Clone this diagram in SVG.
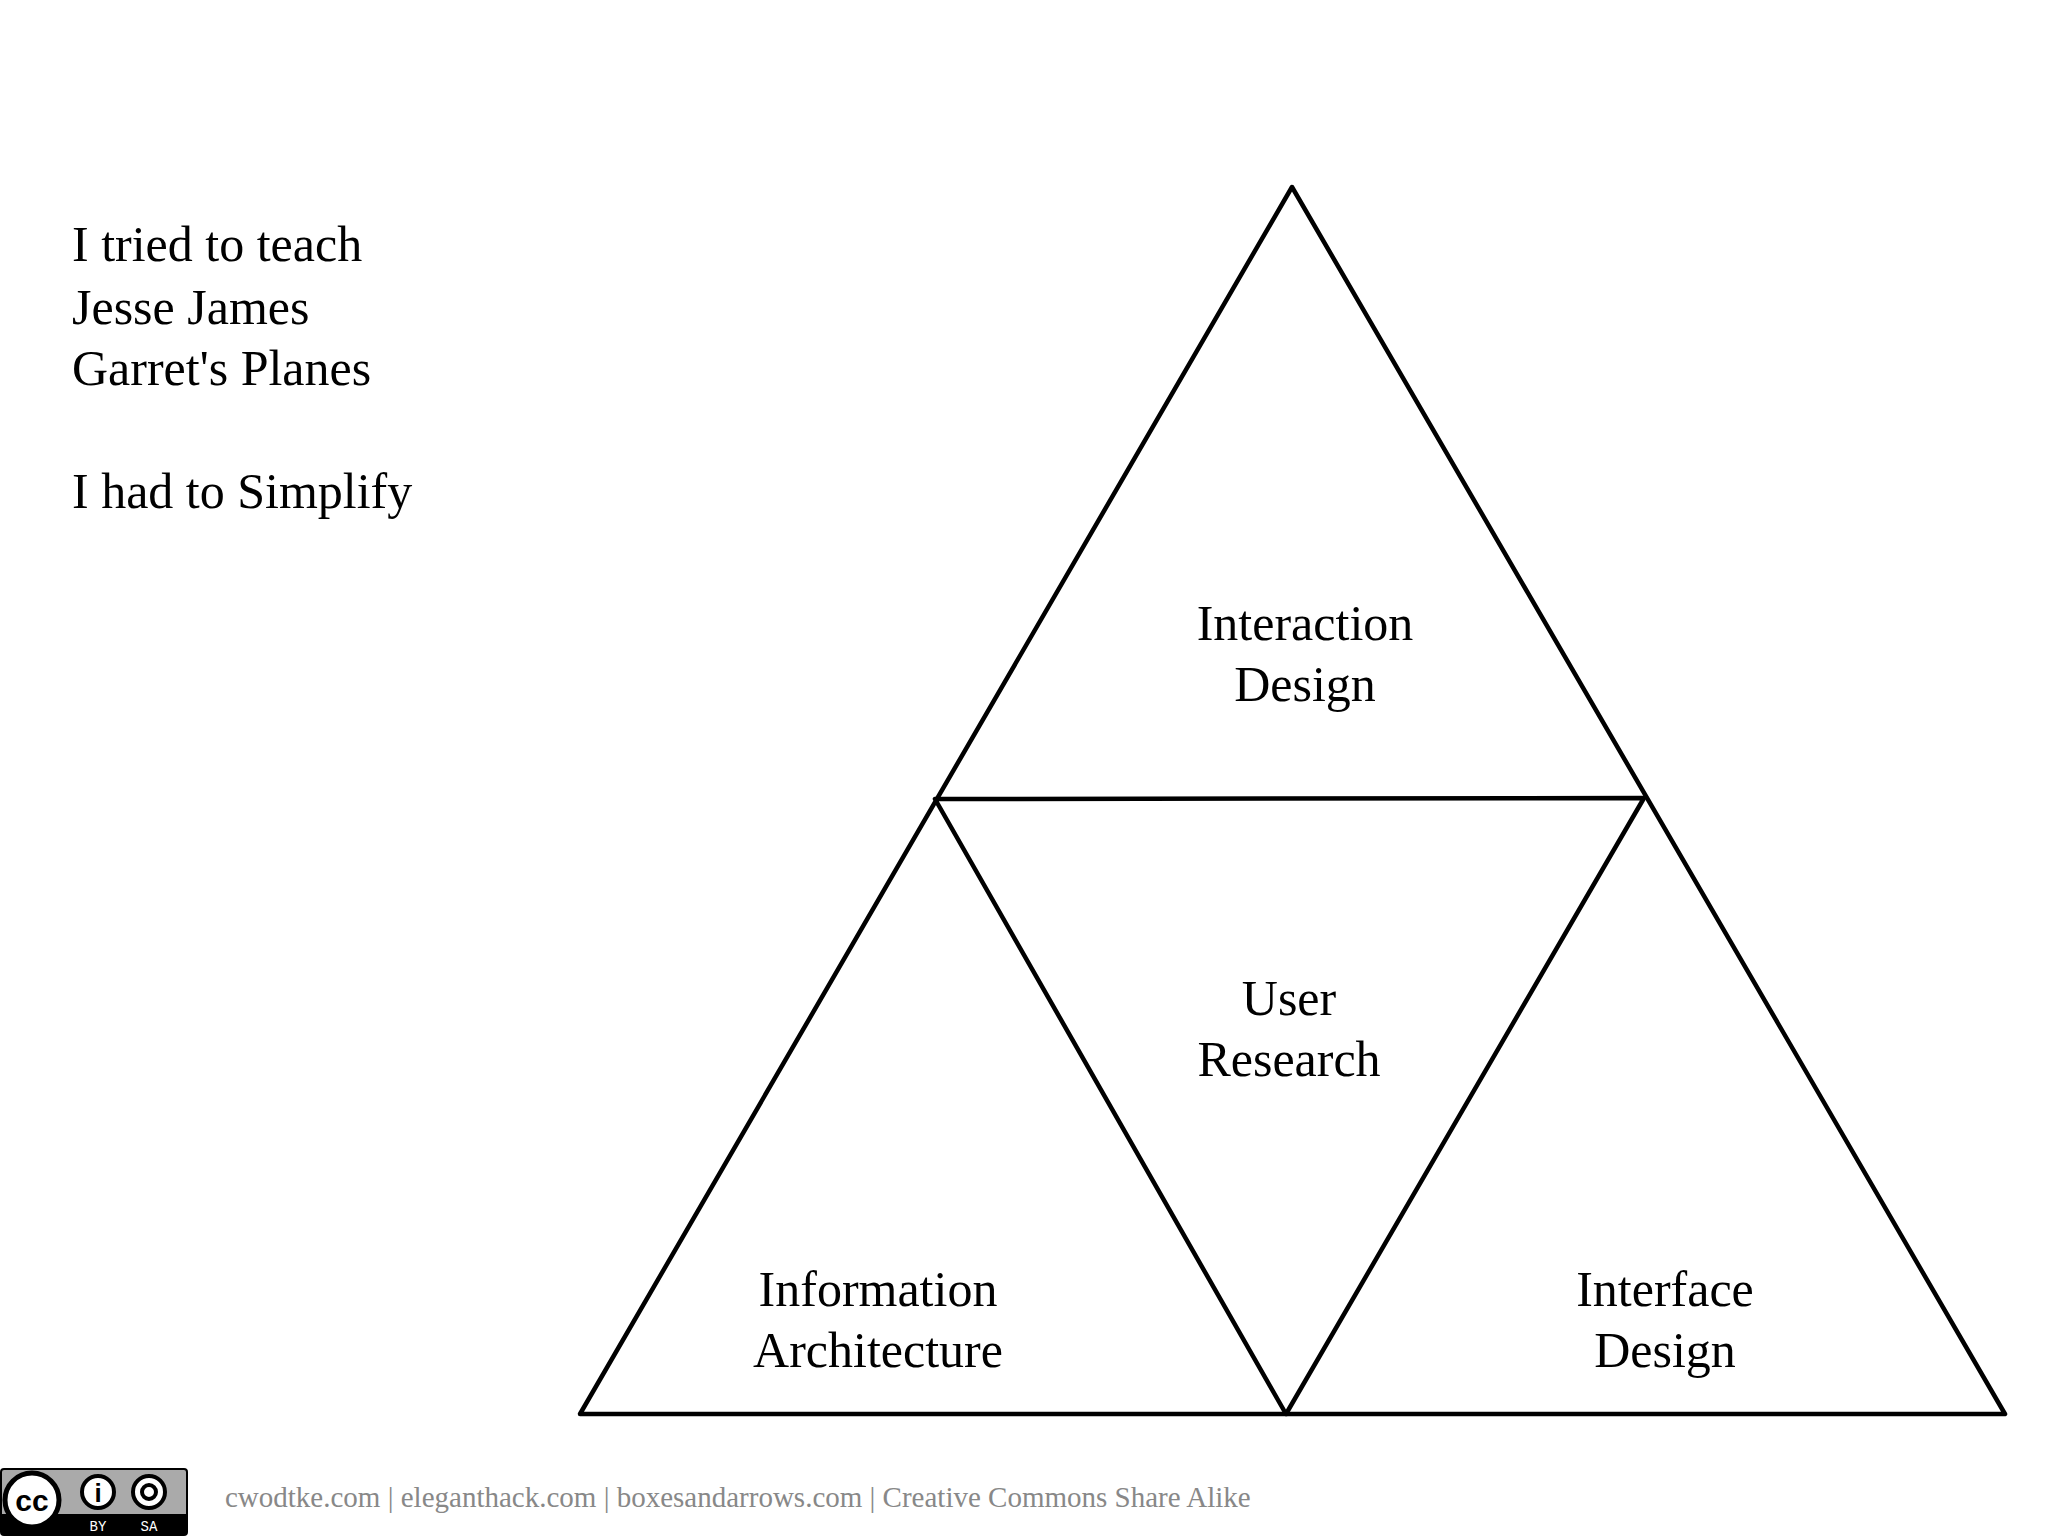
<svg xmlns="http://www.w3.org/2000/svg" width="2048" height="1536" viewBox="0 0 2048 1536">
<style>
.t{font-family:"Liberation Serif","DejaVu Serif",serif;font-size:50px;fill:#000}
.c{text-anchor:middle}
.ln{fill:none;stroke:#000;stroke-width:4.5;stroke-linejoin:round}
.f{font-family:"Liberation Serif",serif;font-size:29px;fill:#888}
</style>
<rect width="2048" height="1536" fill="#fff"/>
<g id="intro">
<text class="t" x="72" y="261">I tried to teach</text>
<text class="t" x="72" y="324">Jesse James</text>
<text class="t" x="72" y="385">Garret's Planes</text>
<text class="t" x="72" y="508">I had to Simplify</text>
</g>
<g id="connectors">
<polygon class="ln" points="1292,187 2005,1414 580,1414"/>
<polygon class="ln" points="935,799 1644,798 1286,1414"/>
</g>
<g id="interaction"><text class="t c" x="1305" y="640">Interaction</text><text class="t c" x="1305" y="701">Design</text></g>
<g id="user"><text class="t c" x="1289" y="1015">User</text><text class="t c" x="1289" y="1076">Research</text></g>
<g id="ia"><text class="t c" x="878" y="1306">Information</text><text class="t c" x="878" y="1367">Architecture</text></g>
<g id="interface"><text class="t c" x="1665" y="1306">Interface</text><text class="t c" x="1665" y="1367">Design</text></g>
<g id="cc">
<rect x="1" y="1469" width="186" height="66" rx="3" fill="#aaa" stroke="#000" stroke-width="2"/>
<rect x="2" y="1514" width="184" height="20" fill="#000"/>
<circle cx="32" cy="1500" r="27" fill="#fff" stroke="#000" stroke-width="5"/>
<text x="32" y="1511" font-family="Liberation Sans,sans-serif" font-weight="bold" font-size="30" text-anchor="middle">cc</text>
<circle cx="98" cy="1492" r="16" fill="#fff" stroke="#000" stroke-width="4"/>
<text x="98" y="1502" font-family="Liberation Sans,sans-serif" font-weight="bold" font-size="26" text-anchor="middle">i</text>
<circle cx="149" cy="1492" r="16" fill="#fff" stroke="#000" stroke-width="4"/>
<circle cx="149" cy="1492" r="7" fill="none" stroke="#000" stroke-width="4"/>
<text x="98" y="1531" font-family="Liberation Mono,monospace" font-size="14" fill="#fff" text-anchor="middle">BY</text>
<text x="149" y="1531" font-family="Liberation Mono,monospace" font-size="14" fill="#fff" text-anchor="middle">SA</text>
</g>
<text class="f" x="225" y="1507">cwodtke.com | eleganthack.com | boxesandarrows.com | Creative Commons Share Alike</text>
</svg>
